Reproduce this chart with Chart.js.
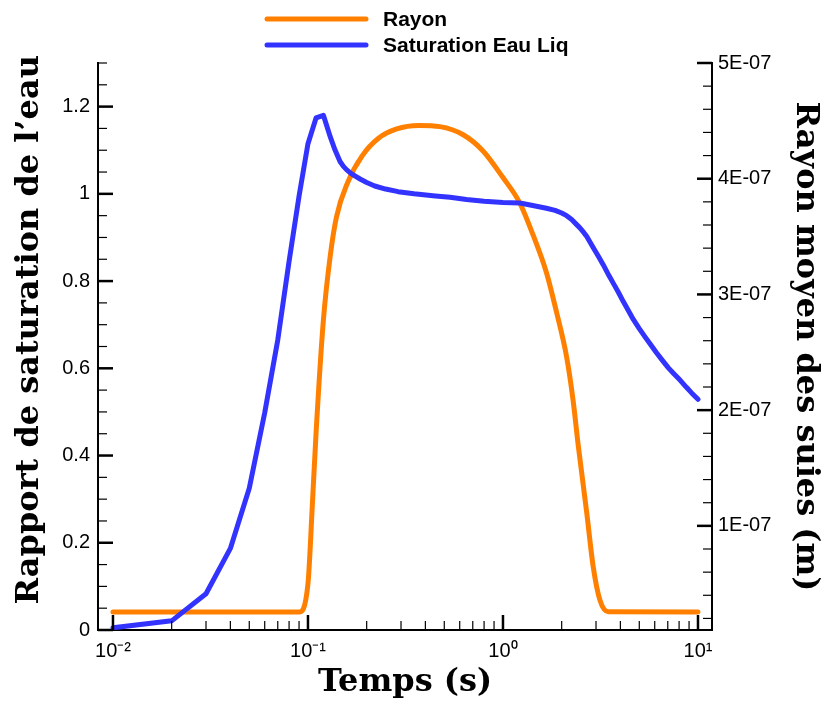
<!DOCTYPE html>
<html>
<head>
<meta charset="utf-8">
<script src="https://cdn.jsdelivr.net/npm/chart.js@4"></script>
<style>
  html, body { margin: 0; padding: 0; background: #fff; }
  canvas { display: block; }
</style>
</head>
<body>
<canvas id="chart" width="827" height="704"></canvas>
<script>
// Rayon moyen des suies (m) vs temps (s)
const tempsRayon = [0.01, 0.09, 0.1, 0.105, 0.11, 0.12, 0.13, 0.14, 0.16, 0.19, 0.23, 0.285, 0.37, 0.475,
    0.625, 0.79, 1.0, 1.22, 1.43, 1.67, 1.88, 2.12, 2.29, 2.43, 2.69, 2.9, 3.14, 3.47, 10];
const rayon = [2.55e-8, 2.55e-8, 5.0e-8, 1.14e-7, 1.80e-7, 2.78e-7, 3.33e-7, 3.67e-7, 3.97e-7, 4.20e-7, 4.35e-7,
    4.43e-7, 4.46e-7, 4.45e-7, 4.38e-7, 4.24e-7, 4.01e-7, 3.79e-7, 3.51e-7, 3.19e-7, 2.85e-7, 2.46e-7,
    2.08e-7, 1.70e-7, 1.11e-7, 6.5e-8, 3.6e-8, 2.58e-8, 2.55e-8];

// Rapport de saturation de l'eau vs temps (s)
const tempsSat = [0.01, 0.02, 0.03, 0.04, 0.05, 0.06, 0.07, 0.08, 0.09, 0.1, 0.11, 0.12, 0.13, 0.1375, 0.146,
    0.152, 0.158, 0.166, 0.174, 0.185, 0.2, 0.22, 0.25, 0.29, 0.35, 0.45, 0.535, 0.65, 0.8, 1.0, 1.22, 1.4,
    1.67, 1.85, 2.0, 2.12, 2.25, 2.38, 2.48, 2.6, 2.69, 2.9, 3.1, 3.27, 3.5, 3.7, 3.9, 4.14, 4.4, 4.66, 5.0,
    5.35, 5.7, 6.14, 6.6, 7.05, 7.5, 8.09, 8.7, 9.3, 10];
const saturation = [0.005, 0.021, 0.083, 0.187, 0.325, 0.498, 0.665, 0.845, 0.995, 1.115, 1.174, 1.18, 1.131,
    1.101, 1.074, 1.063, 1.055, 1.047, 1.041, 1.034, 1.026, 1.018, 1.011, 1.005, 1.0, 0.995, 0.992, 0.987,
    0.983, 0.98, 0.979, 0.974, 0.967, 0.962, 0.956, 0.95, 0.941, 0.93, 0.922, 0.911, 0.902, 0.877, 0.855,
    0.837, 0.812, 0.793, 0.775, 0.753, 0.732, 0.712, 0.691, 0.672, 0.655, 0.635, 0.617, 0.601, 0.588, 0.573,
    0.557, 0.543, 0.529];

// axes
const xDecades = [0.01, 0.1, 1];
const xDecadeLabels = ['10⁻²', '10⁻¹', '10⁰', '10¹'];
const yLeftLabels = ['0', '0.2', '0.4', '0.6', '0.8', '1', '1.2'];
const yRightLabels = ['1E-07', '2E-07', '3E-07', '4E-07', '5E-07'];

const xTicks = [];
xDecades.forEach(d => { for (let k = 1; k <= 9; k++) xTicks.push(+(d * k).toPrecision(3)); });
xTicks.push(10);
const yLeftTicks = [];
for (let i = 0; i <= 26; i++) yLeftTicks.push(+(i * 0.05).toFixed(2));
const yRightTicks = [];
for (let i = 1; i <= 25; i++) yRightTicks.push(+(i * 2e-8).toPrecision(3));

const isMajor = {
    x: v => Math.abs(Math.log10(v) - Math.round(Math.log10(v))) < 1e-6,
    yL: v => Math.abs(v / 0.2 - Math.round(v / 0.2)) < 1e-6,
    yR: v => Math.abs(v / 1e-7 - Math.round(v / 1e-7)) < 1e-6
};

const tickFont = { family: '"Liberation Sans", Arial, sans-serif', size: 20 };
const titleFont = { family: '"DejaVu Serif", serif', size: 32, weight: 'bold', lineHeight: 1 };

// short inward tick marks like the original plot
const tickMarks = {
    id: 'tickMarks',
    afterDatasetsDraw(chart) {
        const ctx = chart.ctx;
        ctx.save();
        ctx.strokeStyle = '#000';
        ['x', 'yL', 'yR'].forEach(id => {
            const s = chart.scales[id];
            s.ticks.forEach(t => {
                const major = isMajor[id](t.value);
                const len = major ? 15 : 9;
                const p = s.getPixelForValue(t.value);
                ctx.lineWidth = major ? 2.5 : 1.2;
                ctx.beginPath();
                if (id === 'x') { ctx.moveTo(p, s.top); ctx.lineTo(p, s.top - len); }
                else if (id === 'yL') { ctx.moveTo(s.right, p); ctx.lineTo(s.right + len, p); }
                else { ctx.moveTo(s.left, p); ctx.lineTo(s.left - len, p); }
                ctx.stroke();
            });
        });
        ctx.restore();
    }
};

const legendLines = {
    id: 'legendLines',
    afterDraw(chart) {
        const ctx = chart.ctx;
        chart.data.datasets.forEach((ds, i) => {
            const y = 19 + i * 26;
            ctx.save();
            ctx.strokeStyle = ds.borderColor;
            ctx.lineWidth = 5;
            ctx.lineCap = 'round';
            ctx.beginPath();
            ctx.moveTo(267, y);
            ctx.lineTo(366, y);
            ctx.stroke();
            ctx.fillStyle = '#000';
            ctx.font = 'bold 21px "Liberation Sans", Arial, sans-serif';
            ctx.textBaseline = 'middle';
            ctx.fillText(ds.label, 383, y + 1);
            ctx.restore();
        });
    }
};

new Chart(document.getElementById('chart'), {
    type: 'line',
    data: {
        datasets: [{
            label: 'Rayon',
            data: tempsRayon.map((t, i) => ({ x: t, y: rayon[i] })),
            yAxisID: 'yR',
            borderColor: '#ff8000',
            borderWidth: 5,
            pointRadius: 0,
            cubicInterpolationMode: 'monotone',
            borderCapStyle: 'round',
            borderJoinStyle: 'round',
            order: 1
        }, {
            label: 'Saturation Eau Liq',
            data: tempsSat.map((t, i) => ({ x: t, y: saturation[i] })),
            yAxisID: 'yL',
            borderColor: '#3333ff',
            borderWidth: 5,
            pointRadius: 0,
            tension: 0,
            borderCapStyle: 'round',
            borderJoinStyle: 'round',
            order: 0
        }]
    },
    options: {
        responsive: false,
        animation: false,
        layout: { padding: { top: 63, left: 0, right: 0, bottom: 0 } },
        plugins: { legend: { display: false }, tooltip: { enabled: false } },
        scales: {
            x: {
                type: 'logarithmic',
                position: 'bottom',
                min: 0.00838,
                max: 11.8,
                grid: { display: false, drawTicks: false },
                border: { color: '#000', width: 2 },
                ticks: {
                    font: tickFont, color: '#000', padding: 9, autoSkip: false, maxRotation: 0,
                    callback: v => {
                        const i = Math.round(Math.log10(v)) + 2;
                        return isMajor.x(v) ? xDecadeLabels[i] : '';
                    }
                },
                title: { display: true, text: 'Temps (s)', font: titleFont, color: '#000', padding: { top: 0, bottom: 5 } },
                afterBuildTicks: s => { s.ticks = xTicks.map(v => ({ value: v })); },
                afterFit: s => { s.height = 74; }
            },
            yL: {
                type: 'linear',
                position: 'left',
                min: 0,
                max: 1.3,
                grid: { display: false, drawTicks: false },
                border: { color: '#000', width: 2 },
                ticks: {
                    font: tickFont, color: '#000', padding: 8, autoSkip: false,
                    callback: v => isMajor.yL(v) ? yLeftLabels[Math.round(v / 0.2)] : ''
                },
                title: { display: true, text: '   Rapport de saturation de l’eau', font: titleFont, color: '#000', padding: { top: 14, bottom: 0 } },
                afterBuildTicks: s => { s.ticks = yLeftTicks.map(v => ({ value: v })); },
                afterFit: s => { s.width = 98; }
            },
            yR: {
                type: 'linear',
                position: 'right',
                min: 1e-8,
                max: 5e-7,
                grid: { display: false, drawTicks: false },
                border: { color: '#000', width: 2 },
                ticks: {
                    font: tickFont, color: '#000', padding: 6, autoSkip: false,
                    callback: v => isMajor.yR(v) ? yRightLabels[Math.round(v / 1e-7) - 1] : ''
                },
                title: { display: true, text: 'Rayon moyen des suies (m)', font: titleFont, color: '#000', padding: { top: 6, bottom: 0 } },
                afterBuildTicks: s => { s.ticks = yRightTicks.map(v => ({ value: v })); },
                afterFit: s => { s.width = 115; }
            }
        }
    },
    plugins: [tickMarks, legendLines]
});
</script>
</body>
</html>
